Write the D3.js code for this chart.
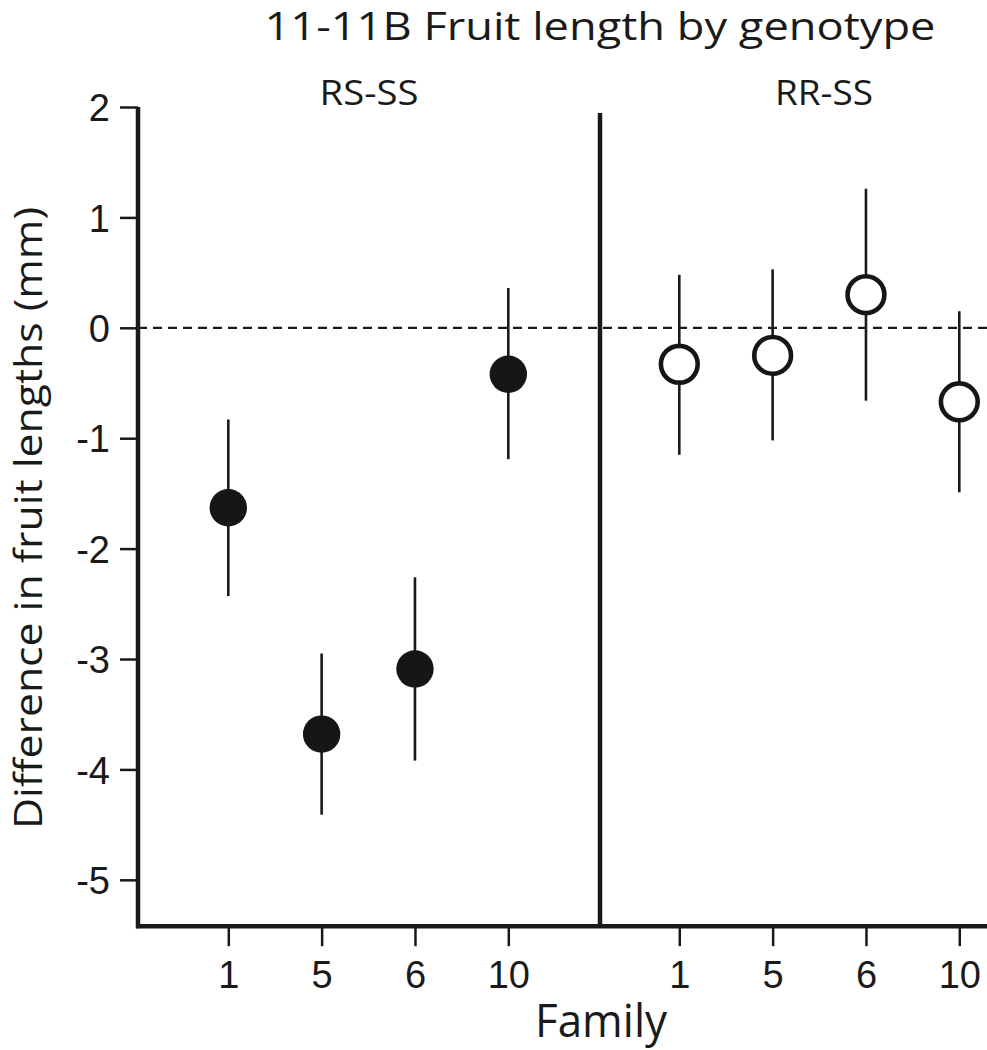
<!DOCTYPE html>
<html>
<head>
<meta charset="utf-8">
<script src="https://cdn.jsdelivr.net/npm/d3@7"></script>
<style>
  body { margin: 0; background: #fff; }
  svg { display: block; font-family: "Open Sans", "Noto Sans", sans-serif; }
  .axis .domain { display: none; }
  .axis line { stroke: #1a1a1a; stroke-width: 2.5; }
  .axis text { fill: #1a1a1a; font-size: 38px; }
</style>
</head>
<body>
<div id="chart"></div>
<script>
// 11-11B fruit length, difference vs SS by family
var families = ["1", "5", "6", "10"];
var panels = ["RS-SS", "RR-SS"];

var rsMean = [-1.63, -3.68, -3.09, -0.42],
    rsHigh = [-0.83, -2.95, -2.26, 0.36],
    rsLow  = [-2.43, -4.41, -3.92, -1.19];

var rrMean = [-0.33, -0.25, 0.30, -0.67],
    rrHigh = [0.48, 0.53, 1.26, 0.15],
    rrLow  = [-1.15, -1.02, -0.66, -1.49];

var yTicks = [2, 1, 0, -1, -2, -3, -4, -5];

var width = 987,
    height = 1050,
    left = 138, divider = 600, right = 987;

var svg = d3.select("#chart").append("svg")
    .attr("width", width)
    .attr("height", height);

var y = d3.scaleLinear().domain([-5.42, 2]).range([926.2, 107]);

var xL = d3.scalePoint().domain(families).range([228.3, 508.3]),
    xR = d3.scalePoint().domain(families).range([679.3, 959.3]);

function rows(mean, hi, lo) {
  return families.map(function(f, i) { return {fam: f, mean: mean[i], hi: hi[i], lo: lo[i]}; });
}
var rs = rows(rsMean, rsHigh, rsLow),
    rr = rows(rrMean, rrHigh, rrLow);

// title
svg.append("text")
    .attr("x", 600).attr("y", 40)
    .attr("text-anchor", "middle")
    .attr("font-size", 38.5)
    .attr("fill", "#1a1a1a")
    .attr("textLength", 671)
    .attr("lengthAdjust", "spacingAndGlyphs")
    .text("11-11B Fruit length by genotype");

// panel labels
svg.append("text")
    .attr("x", (left + divider) / 2).attr("y", 105)
    .attr("text-anchor", "middle")
    .attr("font-size", 35).attr("fill", "#1a1a1a")
    .attr("textLength", 99).attr("lengthAdjust", "spacingAndGlyphs")
    .text(panels[0]);
svg.append("text")
    .attr("x", 824).attr("y", 105)
    .attr("text-anchor", "middle")
    .attr("font-size", 35).attr("fill", "#1a1a1a")
    .attr("textLength", 98).attr("lengthAdjust", "spacingAndGlyphs")
    .text(panels[1]);

// zero line
svg.append("line")
    .attr("x1", left).attr("x2", right)
    .attr("y1", y(0)).attr("y2", y(0))
    .attr("stroke", "#1a1a1a")
    .attr("stroke-width", 2.2)
    .attr("stroke-dasharray", "9,6");

// y axis, plain hyphen for negatives as in the original
var yAxis = svg.append("g")
    .attr("class", "axis")
    .attr("transform", "translate(" + left + ",0)")
    .call(d3.axisLeft(y).tickValues(yTicks).tickSize(18).tickSizeOuter(0).tickPadding(10)
      .tickFormat(function(d) { return String(d); }));
yAxis.selectAll("text").attr("dy", "0.36em");

// x axes
var xAxisL = svg.append("g")
    .attr("class", "axis xaxis")
    .attr("transform", "translate(0," + y.range()[0] + ")")
    .call(d3.axisBottom(xL).tickSize(20).tickSizeOuter(0));
var xAxisR = svg.append("g")
    .attr("class", "axis xaxis")
    .attr("transform", "translate(0," + y.range()[0] + ")")
    .call(d3.axisBottom(xR).tickSize(20).tickSizeOuter(0));
svg.selectAll(".xaxis text").attr("y", 62).attr("dy", 0);

// frame lines
svg.append("line")
    .attr("x1", left).attr("x2", left)
    .attr("y1", y(2)).attr("y2", y.range()[0] + 2)
    .attr("stroke", "#1a1a1a").attr("stroke-width", 4.5);
svg.append("line")
    .attr("x1", left - 2).attr("x2", right)
    .attr("y1", y.range()[0]).attr("y2", y.range()[0])
    .attr("stroke", "#1a1a1a").attr("stroke-width", 4.5);
svg.append("line")
    .attr("x1", divider).attr("x2", divider)
    .attr("y1", 113).attr("y2", y.range()[0])
    .attr("stroke", "#1a1a1a").attr("stroke-width", 4.5);

// error bars + points
function drawPanel(data, x, filled) {
  var g = svg.append("g");
  g.selectAll(".err")
    .data(data).enter().append("line")
      .attr("class", "err")
      .attr("x1", function(d) { return x(d.fam); })
      .attr("x2", function(d) { return x(d.fam); })
      .attr("y1", function(d) { return y(d.hi); })
      .attr("y2", function(d) { return y(d.lo); })
      .attr("stroke", "#1a1a1a")
      .attr("stroke-width", 2.6);
  g.selectAll(".pt")
    .data(data).enter().append("circle")
      .attr("class", "pt")
      .attr("cx", function(d) { return x(d.fam); })
      .attr("cy", function(d) { return y(d.mean); })
      .attr("r", filled ? 18.7 : 18.4)
      .attr("fill", filled ? "#161616" : "#fff")
      .attr("stroke", filled ? "none" : "#161616")
      .attr("stroke-width", filled ? 0 : 4.6);
}
drawPanel(rs, xL, true);
drawPanel(rr, xR, false);

// axis titles
svg.append("text")
    .attr("x", 601).attr("y", 1037)
    .attr("text-anchor", "middle")
    .attr("font-size", 46).attr("fill", "#1a1a1a")
    .attr("textLength", 132).attr("lengthAdjust", "spacingAndGlyphs")
    .text("Family");

svg.append("text")
    .attr("transform", "translate(42,518) rotate(-90)")
    .attr("text-anchor", "middle")
    .attr("font-size", 39).attr("fill", "#1a1a1a")
    .attr("textLength", 622).attr("lengthAdjust", "spacingAndGlyphs")
    .text("Difference in fruit lengths (mm)");
</script>
</body>
</html>
